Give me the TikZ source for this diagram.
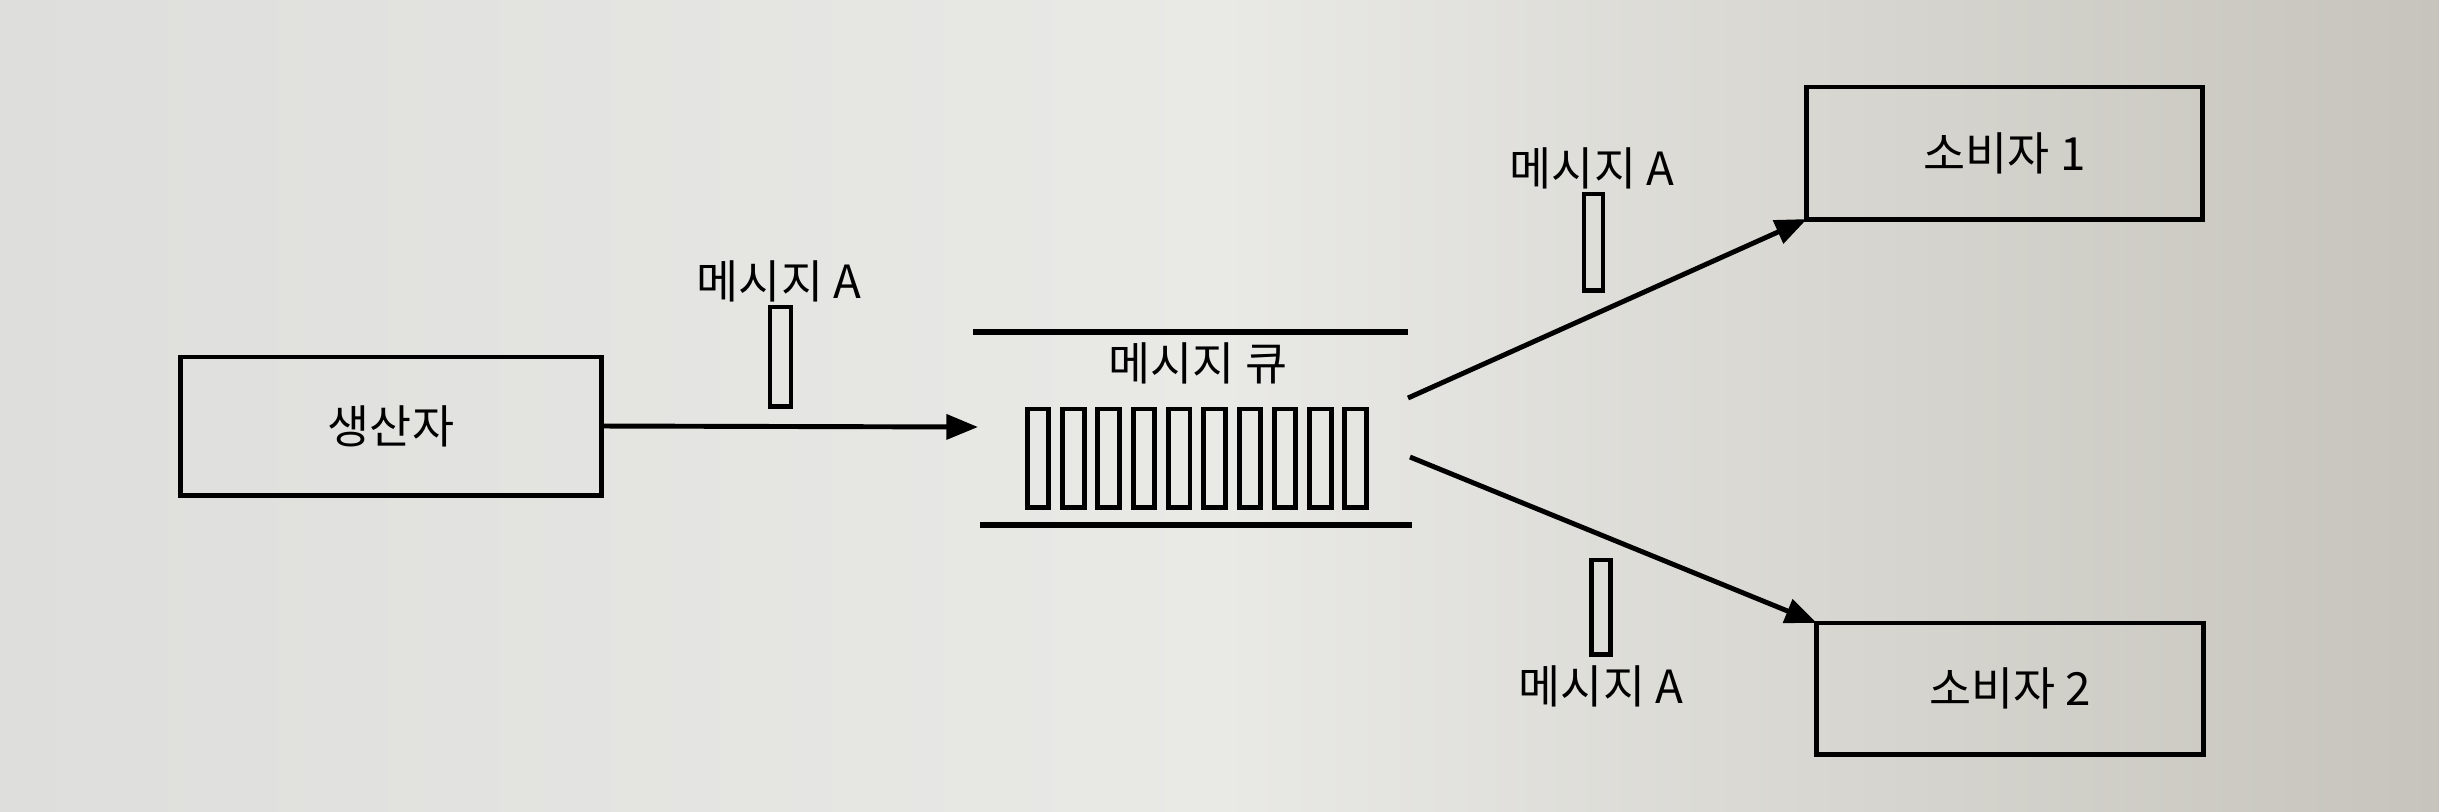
\documentclass[tikz,border=0pt]{standalone}
\usepackage{fontspec}
\newfontfamily\kr{Noto Sans CJK KR}
\usetikzlibrary{arrows.meta}
\definecolor{bgL}{RGB}{222,222,220}
\definecolor{bgM}{RGB}{233,233,230}
\definecolor{bgR}{RGB}{198,196,188}
\tikzset{
  lw/.style={line width=1.4pt},
  box/.style={draw, lw, rectangle, inner sep=0pt, outer sep=0pt, font=\kr\fontsize{13}{15}\selectfont},
  msg/.style={draw, lw, rectangle, inner sep=0pt, outer sep=0pt},
  lbl/.style={inner sep=0pt, font=\kr\fontsize{13}{15}\selectfont},
  arr/.style={lw, -{Triangle[length=9pt,width=7pt]}},
  qline/.style={line width=1.5pt}
}
\begin{document}
\begin{tikzpicture}[x=0.01cm, y=-0.01cm]
  \shade[left color=bgL, right color=bgR, middle color=bgM] (0,0) rectangle (2439,811);
  \useasboundingbox (0,0) rectangle (2439,811);

  % producer
  \node[box, minimum width=4.2cm, minimum height=1.38cm] (prod) at (391,426) {생산자};
  % consumers
  \node[box, minimum width=3.95cm, minimum height=1.32cm] (cons1) at (2004.5,153) {소비자 1};
  \node[box, minimum width=3.86cm, minimum height=1.31cm] (cons2) at (2010,688.5) {소비자 2};

  % messages
  \node[msg, minimum width=0.21cm, minimum height=0.99cm] (m1) at (780.5,356.5) {};
  \node[lbl] (l1) at (779,281) {메시지 A};
  \node[msg, minimum width=0.19cm, minimum height=0.96cm] (m2) at (1593.5,242) {};
  \node[lbl] (l2) at (1592,168) {메시지 A};
  \node[msg, minimum width=0.19cm, minimum height=0.94cm] (m3) at (1601,607) {};
  \node[lbl] (l3) at (1601,686) {메시지 A};

  % queue
  \coordinate (qt1) at (973,332);
  \coordinate (qt2) at (1408,332);
  \coordinate (qb1) at (980,525);
  \coordinate (qb2) at (1412,525);
  \draw[qline] (qt1) -- (qt2);
  \draw[qline] (qb1) -- (qb2);
  \node[lbl] (qtitle) at (1198,363) {메시지 큐};
  \foreach \i in {0,...,9} {
    \node[msg, minimum width=0.215cm, minimum height=0.98cm] (c\i) at ({1038+35.3*\i},458) {};
  }

  % connectors
  \coordinate (qin) at (978,427);
  \coordinate (qo1) at (1408,398);
  \coordinate (qo2) at (1410,457);
  \draw[arr] (prod.east) -- (qin);
  \draw[arr] (qo1) -- (cons1.south west);
  \draw[arr] (qo2) -- (cons2.north west);
\end{tikzpicture}
\end{document}
